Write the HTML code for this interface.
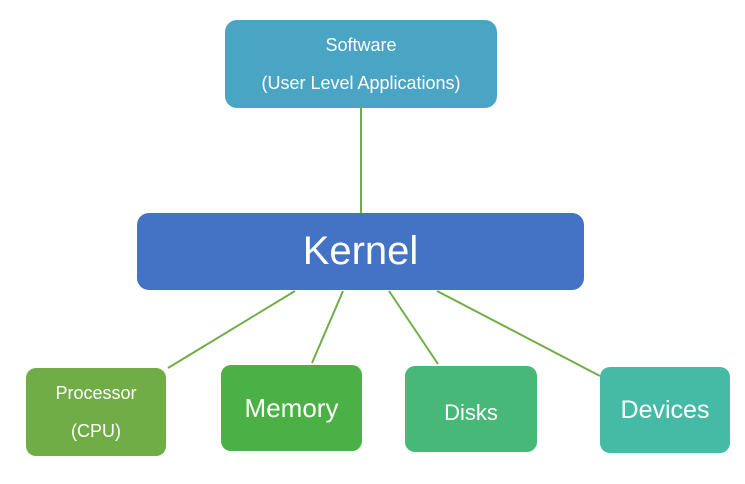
<!DOCTYPE html>
<html><head><style>
body{margin:0;width:745px;height:484px;background:#fff;position:relative;overflow:hidden;font-family:"Liberation Sans",sans-serif;}
.b{position:absolute;border-radius:12px;color:#fff;display:flex;flex-direction:column;align-items:center;justify-content:center;text-align:center;}
svg{position:absolute;left:0;top:0;}
</style></head><body>
<svg width="745" height="484"><g stroke="#70AD47" stroke-width="2">
<line x1="361" y1="108" x2="361" y2="213"/>
<line x1="295" y1="291" x2="168" y2="368"/>
<line x1="343" y1="291" x2="312" y2="363"/>
<line x1="389" y1="291" x2="438" y2="364"/>
<line x1="437" y1="291" x2="600" y2="376"/>
</g></svg>
<div class="b" style="left:225px;top:20px;width:272px;height:88px;background:#4AA5C5;font-size:18px;line-height:38px;"><div>Software</div><div>(User Level Applications)</div></div>
<div class="b" style="left:137px;top:213px;width:447px;height:77px;background:#4472C4;font-size:40px;">Kernel</div>
<div class="b" style="left:26px;top:368px;width:140px;height:88px;background:#70AD47;font-size:18px;line-height:38px;border-radius:10px;"><div>Processor</div><div>(CPU)</div></div>
<div class="b" style="left:221px;top:365px;width:141px;height:86px;background:#4BB146;font-size:26px;border-radius:10px;">Memory</div>
<div class="b" style="left:405px;top:366px;width:132px;height:86px;background:#48B878;font-size:22px;border-radius:10px;padding-top:8px;box-sizing:border-box;">Disks</div>
<div class="b" style="left:600px;top:367px;width:130px;height:86px;background:#45BBA6;font-size:25px;border-radius:10px;">Devices</div>
</body></html>
